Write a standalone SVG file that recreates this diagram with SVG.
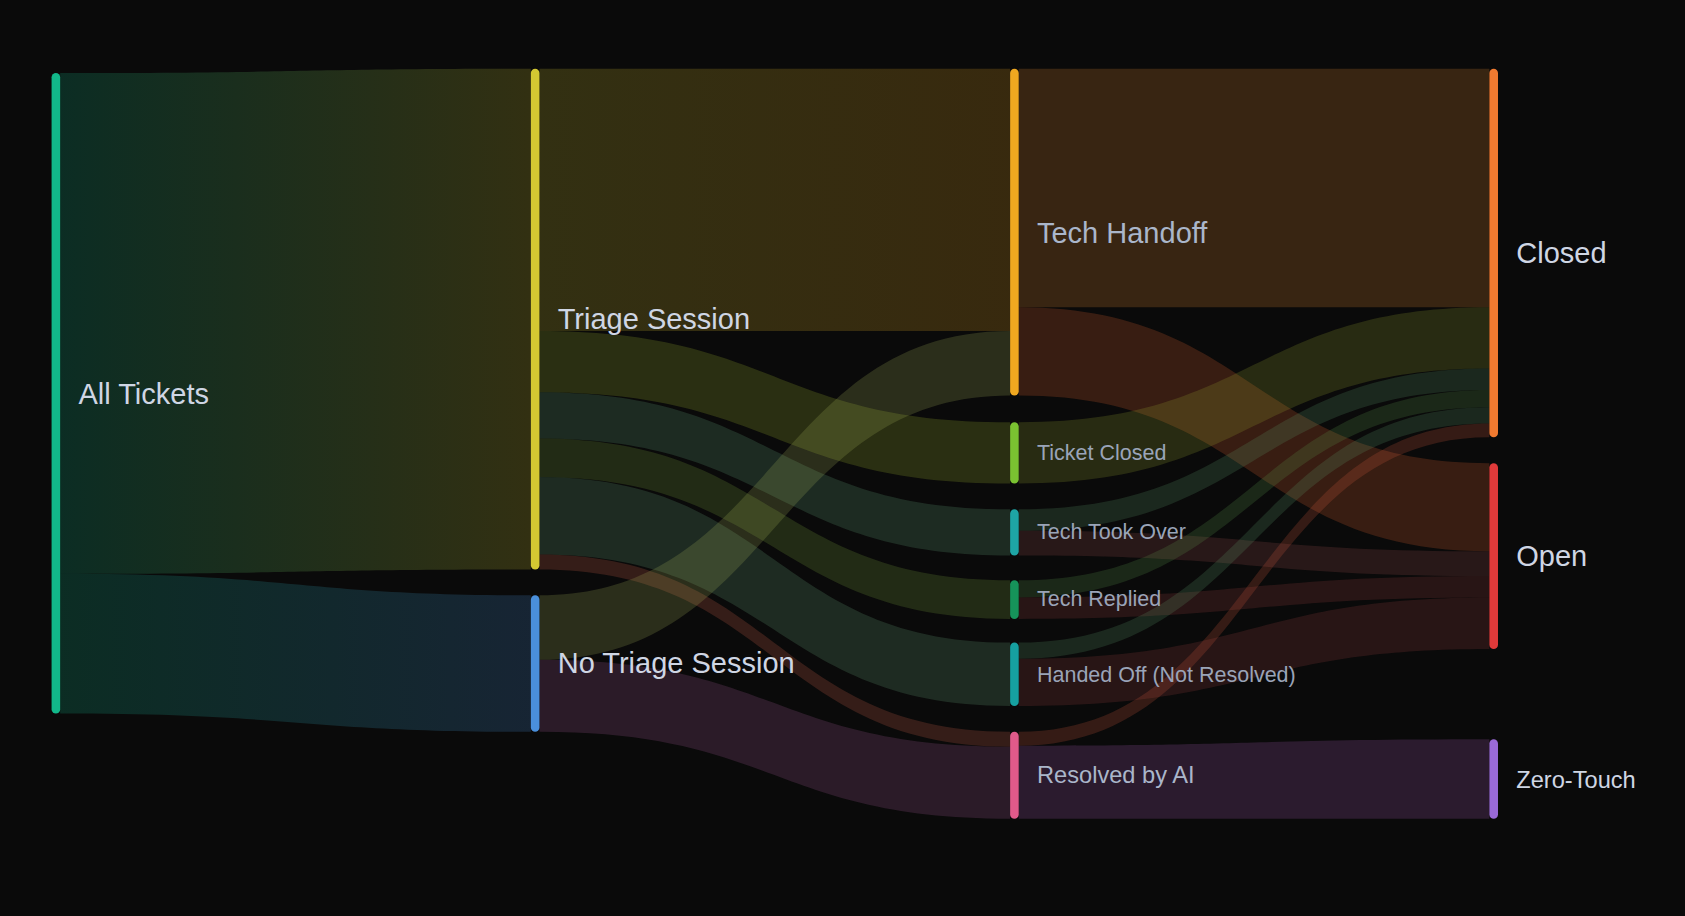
<svg xmlns="http://www.w3.org/2000/svg" width="1685" height="916" viewBox="0 0 1685 916">
<defs>
<linearGradient id="g1" gradientUnits="userSpaceOnUse" x1="56" y1="0" x2="494" y2="0"><stop offset="0" stop-color="#12b88a"/><stop offset="1" stop-color="#d4c832"/></linearGradient>
<linearGradient id="g2" gradientUnits="userSpaceOnUse" x1="56" y1="0" x2="494" y2="0"><stop offset="0" stop-color="#12b88a"/><stop offset="1" stop-color="#4a8fdb"/></linearGradient>
<linearGradient id="g3" gradientUnits="userSpaceOnUse" x1="502" y1="0" x2="940" y2="0"><stop offset="0" stop-color="#d4c832"/><stop offset="1" stop-color="#f0a820"/></linearGradient>
</defs>
<style>
.l{fill-opacity:0.2}
.n{rx:4}
.big{font-family:"Liberation Sans",Arial,sans-serif;font-size:27px;fill:#cfd6e4}
.mid{font-family:"Liberation Sans",Arial,sans-serif;font-size:27px;fill:#aab6ca}
.sm{font-family:"Liberation Sans",Arial,sans-serif;font-size:20px;fill:#9aa4b8}
.md{font-family:"Liberation Sans",Arial,sans-serif;font-size:22px;fill:#aab6ca}
.md2{font-family:"Liberation Sans",Arial,sans-serif;font-size:22px;fill:#cfd6e4}
</style>
<rect width="1685" height="916" fill="#0a0a0a"/>
<g transform="scale(1.0746)">
<g id="links">
<path class="l" fill="url(#g1)" d="M56,68 C278,68 278,64 494,64 L494,530 C278,530 278,534 56,534Z"/>
<path class="l" fill="url(#g2)" d="M56,534 C278,534 278,554 494,554 L494,681 C278,681 278,664 56,664Z"/>
<path class="l" fill="url(#g3)" d="M502,64 C721,64 721,64 940,64 L940,308 C721,308 721,308 502,308Z"/>
<path class="l" fill="#a8c430" d="M502,308 C721,308 721,393 940,393 L940,450 C721,450 721,365 502,365Z"/>
<path class="l" fill="#6ab080" d="M502,365 C721,365 721,474 940,474 L940,517 C721,517 721,408 502,408Z"/>
<path class="l" fill="#80b040" d="M502,408 C721,408 721,540 940,540 L940,576 C721,576 721,444 502,444Z"/>
<path class="l" fill="#70b080" d="M502,444 C721,444 721,598 940,598 L940,657 C721,657 721,516 502,516Z"/>
<path class="l" fill="#e06a50" d="M502,516 C721,516 721,681 940,681 L940,695 C721,695 721,530 502,530Z"/>
<path class="l" fill="#b0c060" d="M502,554 C721,554 721,308 940,308 L940,368 C721,368 721,614 502,614Z"/>
<path class="l" fill="#b060a0" d="M502,614 C721,614 721,695 940,695 L940,762 C721,762 721,681 502,681Z"/>
<path class="l" fill="#f09030" d="M948,64 C1167,64 1167,64 1386,64 L1386,286 C1167,286 1167,286 948,286Z"/>
<path class="l" fill="#f06a30" d="M948,286 C1167,286 1167,431 1386,431 L1386,513 C1167,513 1167,368 948,368Z"/>
<path class="l" fill="#a0b030" d="M948,393 C1167,393 1167,286 1386,286 L1386,343 C1167,343 1167,450 948,450Z"/>
<path class="l" fill="#60a070" d="M948,474 C1167,474 1167,343 1386,343 L1386,363 C1167,363 1167,494 948,494Z"/>
<path class="l" fill="#a05050" d="M948,494 C1167,494 1167,513 1386,513 L1386,536 C1167,536 1167,517 948,517Z"/>
<path class="l" fill="#60a050" d="M948,540 C1167,540 1167,363 1386,363 L1386,379 C1167,379 1167,556 948,556Z"/>
<path class="l" fill="#a04040" d="M948,556 C1167,556 1167,536 1386,536 L1386,556 C1167,556 1167,576 948,576Z"/>
<path class="l" fill="#60a070" d="M948,598 C1167,598 1167,379 1386,379 L1386,394 C1167,394 1167,613 948,613Z"/>
<path class="l" fill="#a04040" d="M948,613 C1167,613 1167,556 1386,556 L1386,604 C1167,604 1167,657 948,657Z"/>
<path class="l" fill="#e06040" d="M948,681 C1167,681 1167,394 1386,394 L1386,407 C1167,407 1167,694 948,694Z"/>
<path class="l" fill="#b060c0" d="M948,694 C1167,694 1167,688 1386,688 L1386,762 C1167,762 1167,762 948,762Z"/>
</g>
<g id="n-all"><rect class="n" x="48" y="68" width="8" height="596" fill="#12b88a"/><text class="big" x="73" y="376">All Tickets</text></g>
<g id="n-triage"><rect class="n" x="494" y="64" width="8" height="466" fill="#d4c832"/><text class="big" x="519" y="306">Triage Session</text></g>
<g id="n-notriage"><rect class="n" x="494" y="554" width="8" height="127" fill="#4a8fdb"/><text class="big" x="519" y="626">No Triage Session</text></g>
<g id="n-th"><rect class="n" x="940" y="64" width="8" height="304" fill="#f0a820"/><text class="mid" x="965" y="226">Tech Handoff</text></g>
<g id="n-tc"><rect class="n" x="940" y="393" width="8" height="57" fill="#7ac231"/><text class="sm" x="965" y="428">Ticket Closed</text></g>
<g id="n-tto"><rect class="n" x="940" y="474" width="8" height="43" fill="#1ea5a5"/><text class="sm" x="965" y="502">Tech Took Over</text></g>
<g id="n-tr"><rect class="n" x="940" y="540" width="8" height="36" fill="#16935a"/><text class="sm" x="965" y="564">Tech Replied</text></g>
<g id="n-ho"><rect class="n" x="940" y="598" width="8" height="59" fill="#16a0a0"/><text class="sm" x="965" y="635">Handed Off (Not Resolved)</text></g>
<g id="n-rai"><rect class="n" x="940" y="681" width="8" height="81" fill="#e05a8a"/><text class="md" x="965" y="729">Resolved by AI</text></g>
<g id="n-closed"><rect class="n" x="1386" y="64" width="8" height="343" fill="#f07a30"/><text class="big" x="1411" y="245">Closed</text></g>
<g id="n-open"><rect class="n" x="1386" y="431" width="8" height="173" fill="#e03a3a"/><text class="big" x="1411" y="527">Open</text></g>
<g id="n-zero"><rect class="n" x="1386" y="688" width="8" height="74" fill="#9a6ad8"/><text class="md2" x="1411" y="733">Zero-Touch</text></g>
</g>
</svg>
